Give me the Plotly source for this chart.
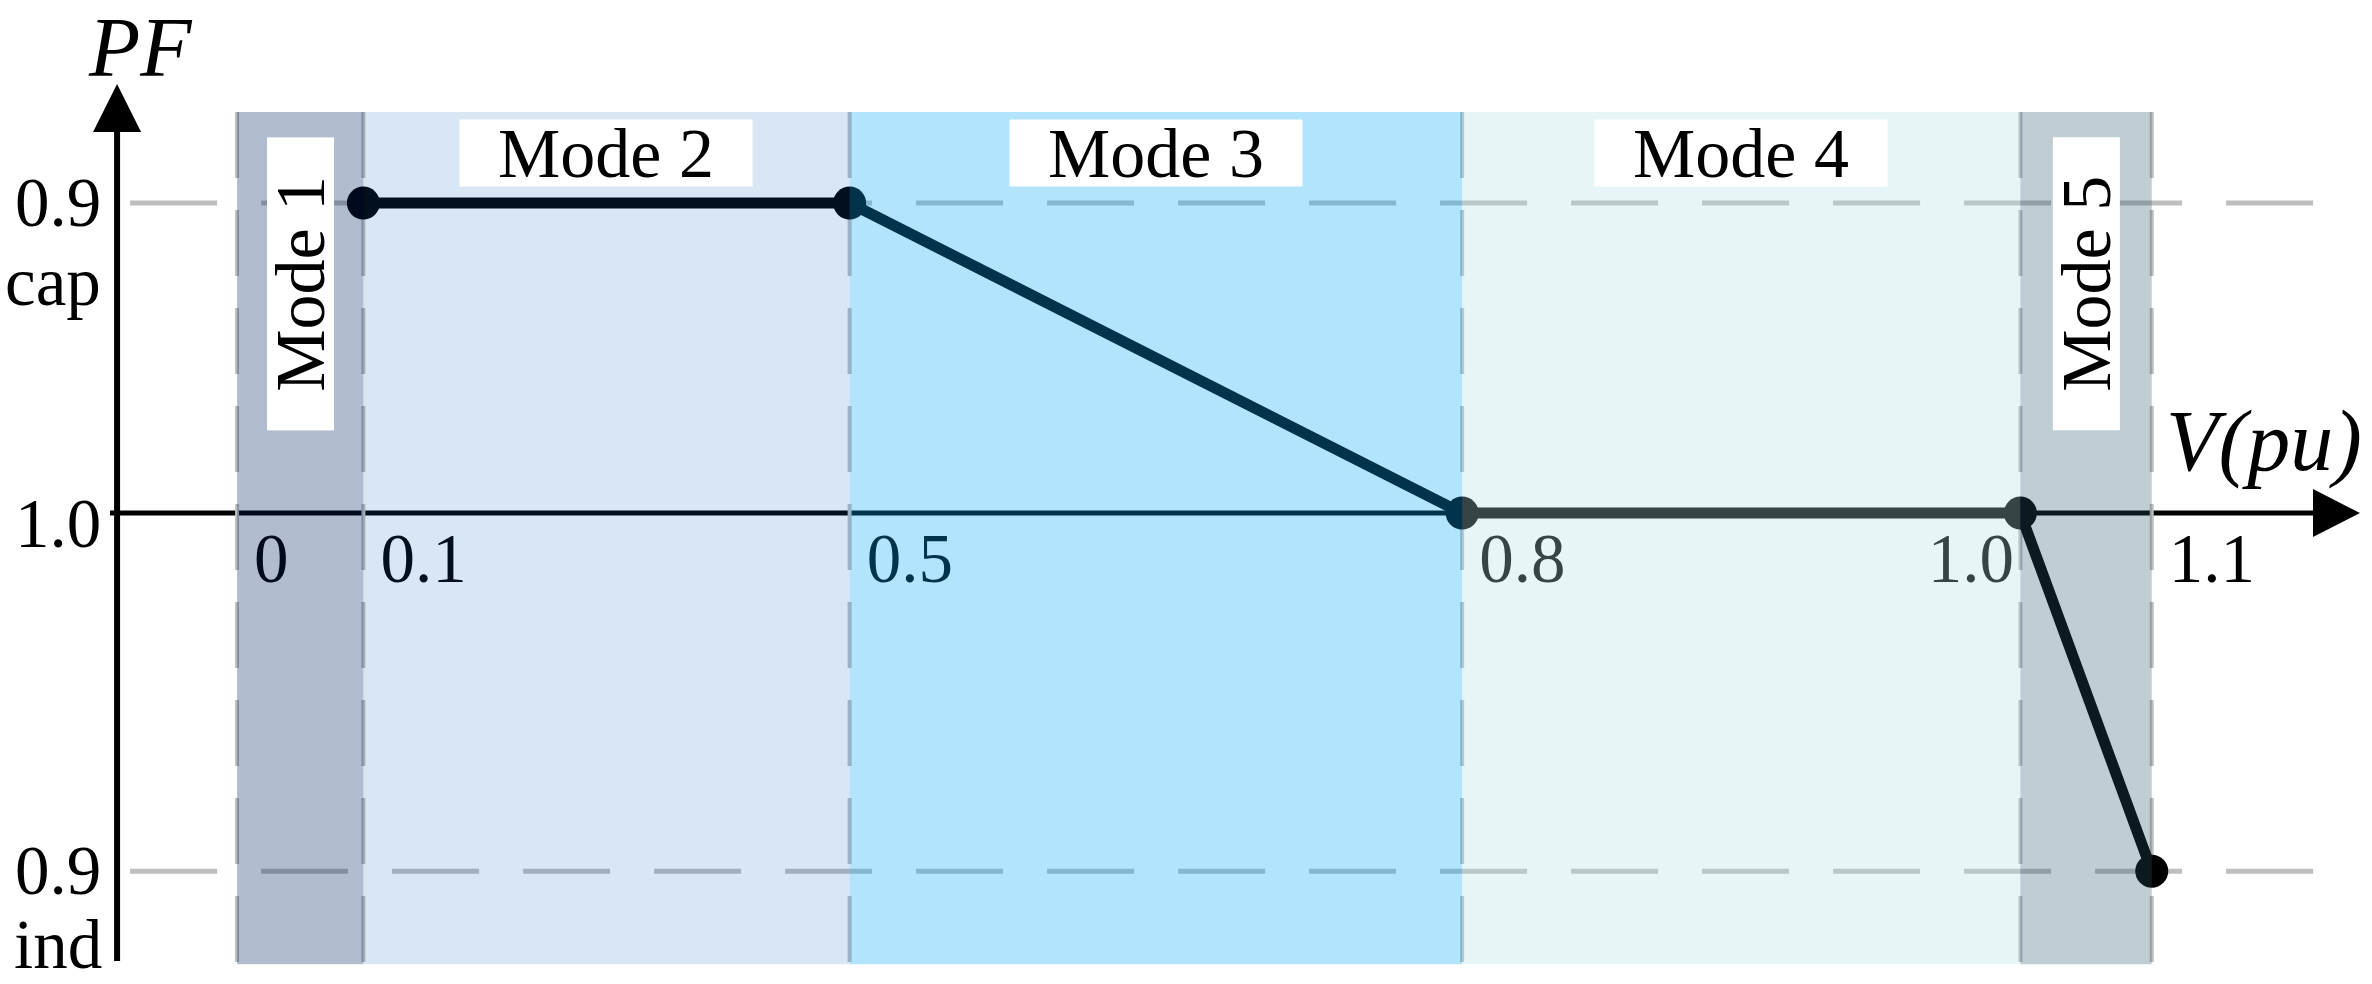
import plotly.graph_objects as go

# Voltage breakpoints (pu); the sketch is schematic, so positions are not to scale
V_LABELS = ["0", "0.1", "0.5", "0.8", "1.0", "1.1"]
V_POS = [0.0, 1.0, 4.85, 9.7, 14.12, 15.16]

# Power-factor levels on the vertical axis
PF_LABELS = ["0.9 cap", "1.0", "0.9 ind"]
PF_POS = [1.0, 0.0, -1.155]

MODES = ["Mode 1", "Mode 2", "Mode 3", "Mode 4", "Mode 5"]

# PF(V) characteristic
CURVE_V = ["0.1", "0.5", "0.8", "1.0", "1.1"]
CURVE_PF = ["0.9 cap", "0.9 cap", "1.0", "1.0", "0.9 ind"]

FONT = "Liberation Serif"
GRID = "#bebebe"
# translucent bands laid over everything, so lines/labels underneath get tinted
MODE_FILLS = [
    "rgba(0,32,95,0.30)",
    "rgba(13,96,185,0.157)",
    "rgba(3,167,243,0.305)",
    "rgba(180,222,229,0.306)",
    "rgba(41,88,105,0.295)",
]

W, H = 2372, 984
X_RANGE = [-1.877, 16.904]   # 1 unit ~ 126 px
Y_RANGE = [-1.519, 1.655]    # 1 unit ~ 310 px
BAND_TOP, BAND_BOT = 1.294, -1.455
Y_AXIS_X = -0.95
LABEL_RIGHT = -1.061

v_at = dict(zip(V_LABELS, V_POS))
pf_at = dict(zip(PF_LABELS, PF_POS))

shapes = [
    # horizontal axis (PF = 1.0), kept under the guides
    dict(type="line", layer="below", x0=-1.006, x1=16.44, y0=0, y1=0,
         line=dict(color="black", width=5)),
]
for lvl in ("0.9 cap", "0.9 ind"):
    shapes.append(dict(type="line", layer="below", x0=-0.847, x1=16.508,
                       y0=pf_at[lvl], y1=pf_at[lvl],
                       line=dict(color=GRID, width=5, dash="87px,44px")))
for x in V_POS:
    shapes.append(dict(type="line", layer="below", x0=x, x1=x,
                       y0=BAND_TOP, y1=BAND_BOT,
                       line=dict(color=GRID, width=4, dash="66px,32px")))
for i, fill in enumerate(MODE_FILLS):
    shapes.append(dict(type="rect", layer="above", x0=V_POS[i], x1=V_POS[i + 1],
                       y0=BAND_BOT, y1=BAND_TOP, fillcolor=fill, line=dict(width=0)))
shapes += [
    dict(type="line", layer="above", x0=Y_AXIS_X, x1=Y_AXIS_X, y0=-1.445, y1=1.229,
         line=dict(color="black", width=6)),
    dict(type="path", layer="above", xsizemode="pixel", ysizemode="pixel",
         xanchor=Y_AXIS_X, yanchor=1.384, path="M0,0 L-24,-48 L24,-48 Z",
         fillcolor="black", line=dict(width=0)),
    dict(type="path", layer="above", xsizemode="pixel", ysizemode="pixel",
         xanchor=16.809, yanchor=0, path="M0,0 L-47,24 L-47,-24 Z",
         fillcolor="black", line=dict(width=0)),
]

fig = go.Figure()
fig.add_trace(go.Scatter(
    x=[v_at[v] for v in CURVE_V], y=[pf_at[p] for p in CURVE_PF],
    mode="lines+markers", line=dict(color="black", width=11),
    marker=dict(color="black", size=33), hoverinfo="skip",
))
# voltage labels sit under the bands so they pick up the tint
fig.add_trace(go.Scatter(
    x=[v + (-0.05 if lab == "1.0" else 0.135) for lab, v in zip(V_LABELS, V_POS)],
    y=[-0.055] * len(V_LABELS),
    mode="text", text=V_LABELS,
    textposition=["bottom left" if lab == "1.0" else "bottom right" for lab in V_LABELS],
    textfont=dict(family=FONT, size=69, color="black"), hoverinfo="skip",
))

annotations = []
for lab, y in zip(PF_LABELS, PF_POS):
    num, *kind = lab.split()
    annotations.append(dict(x=LABEL_RIGHT, y=y, text=num, xanchor="right", yanchor="middle",
                            yshift=-11 if not kind else 0, showarrow=False,
                            font=dict(family=FONT, size=69, color="black")))
    if kind == ["cap"]:
        annotations.append(dict(x=LABEL_RIGHT, y=y, text="cap", xanchor="right",
                                yanchor="middle", yshift=-79, showarrow=False,
                                font=dict(family=FONT, size=69, color="black")))
    elif kind == ["ind"]:
        # "ind" sits right on the bottom edge of the page
        annotations.append(dict(x=LABEL_RIGHT, y=Y_RANGE[0], text="ind", xanchor="right",
                                yanchor="bottom", showarrow=False, borderpad=0,
                                font=dict(family=FONT, size=69, color="black")))

for i, name in enumerate(MODES):
    narrow = i in (0, len(MODES) - 1)
    annotations.append(dict(
        x=(V_POS[i] + V_POS[i + 1]) / 2, y=0.740 if narrow else 1.161,
        text=name, showarrow=False, textangle=-90 if narrow else 0,
        width=292, height=66, bgcolor="white", borderpad=0,
        xanchor="center", yanchor="middle",
        font=dict(family=FONT, size=70, color="black"),
    ))

annotations += [
    dict(x=-0.768, y=Y_RANGE[1], text="<i>PF</i>", showarrow=False,
         yanchor="top", borderpad=0,
         font=dict(family=FONT, size=84, color="black")),
    dict(x=16.05, y=0.232, text="<i>V(pu)</i>", showarrow=False,
         font=dict(family=FONT, size=86, color="black")),
]

fig.update_layout(
    width=W, height=H, autosize=False,
    margin=dict(l=0, r=0, t=0, b=0),
    paper_bgcolor="white", plot_bgcolor="white",
    showlegend=False,
    xaxis=dict(range=X_RANGE, visible=False, fixedrange=True),
    yaxis=dict(range=Y_RANGE, visible=False, fixedrange=True),
    shapes=shapes, annotations=annotations,
)

# drop the page's default body margin so the figure fills the window exactly
fig.write_html("out.html", config=dict(displayModeBar=False),
               post_script="document.body.style.margin='0';document.body.style.overflow='hidden';")
